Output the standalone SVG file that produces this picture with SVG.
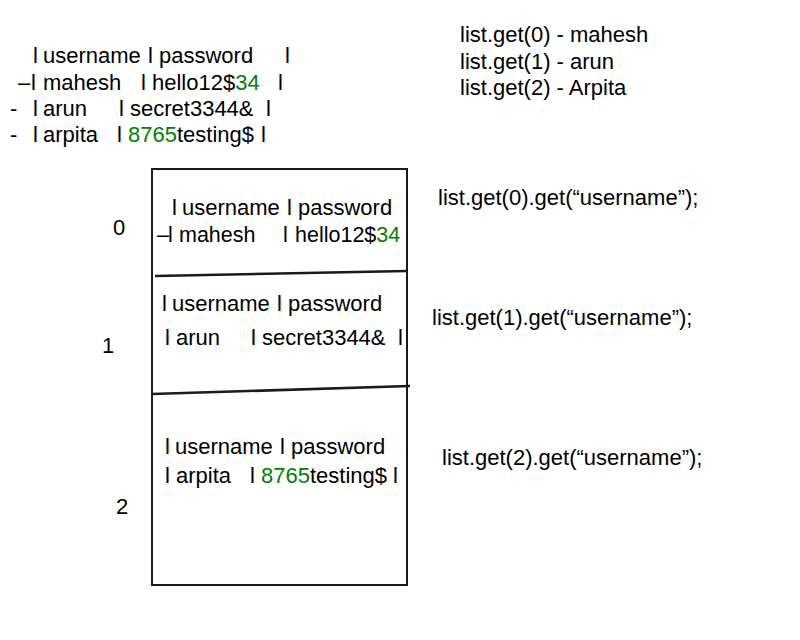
<svg xmlns="http://www.w3.org/2000/svg" width="800" height="640" viewBox="0 0 800 640">
  <style>
    text { font-family: "Liberation Sans", Arial, Helvetica, sans-serif; font-size: 22px; fill: #000; }
    .g { fill: #008000; }
    .sm { font-size: 21.5px; }
    .frame { fill: none; stroke: #1a1a1a; stroke-width: 2; }
    .divider { fill: none; stroke: #1a1a1a; stroke-width: 2.6; }
  </style>
  <rect width="800" height="640" fill="#fff"/>

  <g id="source-table">
    <text y="63"><tspan x="33">l</tspan><tspan x="43">username</tspan><tspan x="148">l</tspan><tspan x="159">password</tspan><tspan x="285">l</tspan></text>
    <text y="90"><tspan x="18">–</tspan><tspan x="31">l</tspan><tspan x="43">mahesh</tspan><tspan x="141">l</tspan><tspan x="152">hello12$</tspan><tspan class="g">34</tspan><tspan x="278">l</tspan></text>
    <text y="116"><tspan x="10">-</tspan><tspan x="33">l</tspan><tspan x="43">arun</tspan><tspan x="119">l</tspan><tspan x="130">secret3344&amp;</tspan><tspan x="266">l</tspan></text>
    <text y="142"><tspan x="10">-</tspan><tspan x="33">l</tspan><tspan x="43">arpita</tspan><tspan x="117">l</tspan><tspan x="128" class="g">8765</tspan><tspan>testing$</tspan><tspan x="261">l</tspan></text>
  </g>

  <g id="list-notes">
    <text x="460" y="42">list.get(0) - mahesh</text>
    <text x="460" y="69">list.get(1) - arun</text>
    <text x="460" y="95">list.get(2) - Arpita</text>
  </g>

  <g id="list-box">
    <rect class="frame" x="152" y="169" width="255" height="416"/>
    <path class="divider" d="M155 276 L407 271"/>
    <path class="divider" d="M152 394 L410 386"/>
  </g>

  <g id="row-0">
    <text y="215"><tspan x="172">l</tspan><tspan x="182">username</tspan><tspan x="287">l</tspan><tspan x="298">password</tspan></text>
    <text class="sm" y="242"><tspan x="157">–</tspan><tspan x="168">l</tspan><tspan x="179">mahesh</tspan><tspan x="283">l</tspan><tspan x="295">hello12$</tspan><tspan class="g">34</tspan></text>
  </g>

  <g id="row-1">
    <text y="311"><tspan x="162">l</tspan><tspan x="172">username</tspan><tspan x="277">l</tspan><tspan x="288">password</tspan></text>
    <text y="345"><tspan x="165">l</tspan><tspan x="176">arun</tspan><tspan x="251">l</tspan><tspan x="262">secret3344&amp;</tspan><tspan x="398">l</tspan></text>
  </g>

  <g id="row-2">
    <text y="454"><tspan x="165">l</tspan><tspan x="175">username</tspan><tspan x="280">l</tspan><tspan x="291">password</tspan></text>
    <text y="483"><tspan x="165">l</tspan><tspan x="176">arpita</tspan><tspan x="250">l</tspan><tspan x="261" class="g">8765</tspan><tspan>testing$</tspan><tspan x="393">l</tspan></text>
  </g>

  <g id="index-labels">
    <text x="113" y="235">0</text>
    <text x="102" y="353">1</text>
    <text x="116" y="514">2</text>
  </g>

  <g id="access-calls">
    <text x="438" y="205">list.get(0).get(“username”);</text>
    <text x="432" y="325">list.get(1).get(“username”);</text>
    <text x="442" y="465">list.get(2).get(“username”);</text>
  </g>
</svg>
